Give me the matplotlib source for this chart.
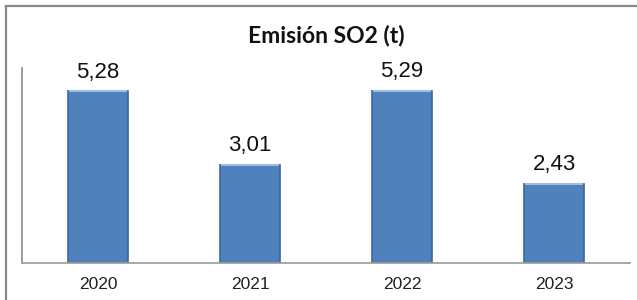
import matplotlib.pyplot as plt
from matplotlib.lines import Line2D

# datos
anios = ['2020', '2021', '2022', '2023']
emision = [5.28, 3.01, 5.29, 2.43]
etiquetas = ['5,28', '3,01', '5,29', '2,43']
titulo = 'Emisión SO2 (t)'

plt.rcParams['font.family'] = ['Liberation Sans', 'DejaVu Sans']

fig = plt.figure(figsize=(6.37, 3.0), dpi=100)
ax = fig.add_axes([22/637, 1-263/300, 608/637, 195/300])

x = range(len(anios))
ancho = 0.4
ax.bar(x, emision, width=ancho, color='#4F81BD', edgecolor='#3A679E', linewidth=1.2, zorder=2)
# brillo arriba de cada barra
ax.hlines(emision, [i - ancho/2 + 0.01 for i in x], [i + ancho/2 - 0.01 for i in x],
          color='#9DBDE6', linewidth=1.5, zorder=3)

for i, v in enumerate(emision):
    ax.annotate(etiquetas[i], (i, v), xytext=(0, 10), textcoords='offset points',
                ha='center', va='baseline', fontsize=16, color='#111111')

ax.set_xlim(-0.5, 3.5)
ax.set_ylim(0, 6)
ax.set_xticks(list(x))
ax.set_xticklabels(anios, fontsize=12.5, color='#222222')
ax.set_yticks([])
ax.tick_params(axis='x', length=0, pad=10)
for s in ['top', 'right']:
    ax.spines[s].set_visible(False)
ax.spines['left'].set_color('#8a8a8a')
ax.spines['left'].set_linewidth(1.2)
ax.spines['bottom'].set_color('#9a9a9a')
ax.spines['bottom'].set_linewidth(1.2)

fig.text(326/637, 1-36/300, titulo, ha='center', va='center', fontsize=16.5,
         fontweight='bold', family=['Lato', 'DejaVu Sans'], color='#111111')

# marco exterior (solo se ven arriba e izquierda)
x0, y0 = 5.5/637, 1 - 5.5/300
fig.add_artist(Line2D([x0, 1.0], [y0, y0], transform=fig.transFigure, color='#888888', lw=1.6))
fig.add_artist(Line2D([x0, x0], [0.0, y0], transform=fig.transFigure, color='#888888', lw=1.6))

fig.savefig('out.png', dpi=100)
